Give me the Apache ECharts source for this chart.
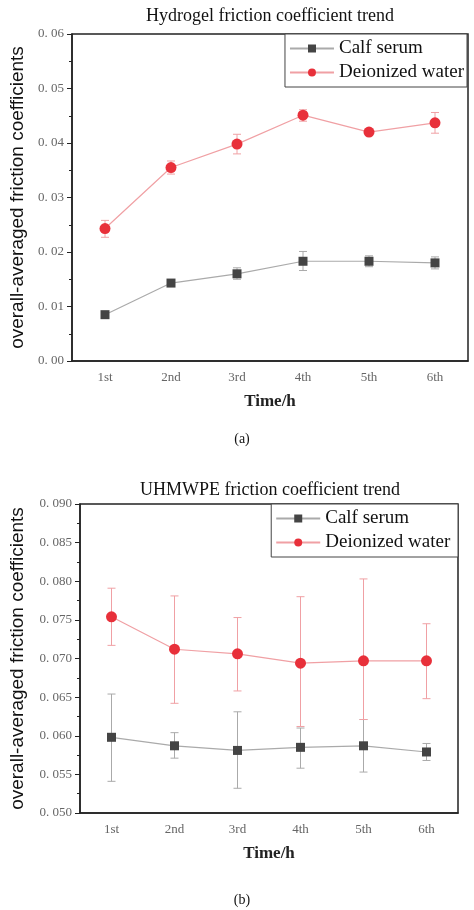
<!DOCTYPE html>
<html><head><meta charset="utf-8">
<script src="https://cdn.jsdelivr.net/npm/echarts@6/dist/echarts.min.js"></script>
<style>body{margin:0;background:#fff}#c{width:474px;height:910px}</style>
</head><body><div id="c"></div>
<script>
const times = ['1st', '2nd', '3rd', '4th', '5th', '6th'];
// Hydrogel
const hCalf = [0.0085, 0.0143, 0.0160, 0.0183, 0.0183, 0.0180];
const hCalfHi = [0.0088, 0.0147, 0.0171, 0.0201, 0.0193, 0.0191];
const hCalfLo = [0.0082, 0.0139, 0.0150, 0.0166, 0.0173, 0.0169];
const hWater = [0.0243, 0.0355, 0.0398, 0.0451, 0.0420, 0.0437];
const hWaterHi = [0.0258, 0.0367, 0.0416, 0.0461, 0.0422, 0.0456];
const hWaterLo = [0.0227, 0.0343, 0.0380, 0.0440, 0.0418, 0.0418];
// UHMWPE
const uCalf = [0.0598, 0.0587, 0.0581, 0.0585, 0.0587, 0.0579];
const uCalfHi = [0.0654, 0.0604, 0.0631, 0.0610, 0.0621, 0.0590];
const uCalfLo = [0.0541, 0.0571, 0.0532, 0.0558, 0.0553, 0.0568];
const uWater = [0.0754, 0.0712, 0.0706, 0.0694, 0.0697, 0.0697];
const uWaterHi = [0.0791, 0.0781, 0.0753, 0.0780, 0.0803, 0.0745];
const uWaterLo = [0.0717, 0.0642, 0.0658, 0.0612, 0.0621, 0.0648];

const serif = 'Liberation Serif';
const calfColor = '#444', calfLine = '#aaa';
const waterColor = '#e8303a', waterLine = '#f0a0a4';

function errBars(idx, hi, lo, color) {
  return {
    type: 'custom', xAxisIndex: idx, yAxisIndex: idx, z: 1, silent: true,
    data: times.map((t, i) => [i, lo[i], hi[i]]),
    renderItem: function (params, api) {
      const a = api.coord([api.value(0), api.value(1)]);
      const b = api.coord([api.value(0), api.value(2)]);
      const w = 4;
      const st = { stroke: color, lineWidth: 1 };
      return { type: 'group', children: [
        { type: 'line', shape: { x1: a[0], y1: a[1], x2: b[0], y2: b[1] }, style: st },
        { type: 'line', shape: { x1: a[0] - w, y1: a[1], x2: a[0] + w, y2: a[1] }, style: st },
        { type: 'line', shape: { x1: b[0] - w, y1: b[1], x2: b[0] + w, y2: b[1] }, style: st }
      ] };
    }
  };
}
function line(idx, name, data, sym, color, lc) {
  return {
    type: 'line', name: name, xAxisIndex: idx, yAxisIndex: idx, data: data, z: 3,
    symbol: sym, symbolSize: sym === 'rect' ? 9 : 11,
    itemStyle: { color: color }, lineStyle: { color: lc, width: 1.2 }
  };
}
function xAx(idx) {
  return {
    type: 'category', gridIndex: idx, data: times,
    name: 'Time/h', nameLocation: 'middle', nameGap: 32,
    nameTextStyle: { fontFamily: serif, fontWeight: 'bold', fontSize: 17, color: '#222' },
    axisLine: { lineStyle: { color: '#222', width: 1.5 } },
    axisTick: { alignWithLabel: true, length: 4, lineStyle: { color: '#222' } },
    axisLabel: { fontFamily: serif, fontSize: 13, color: '#666', margin: 10 }
  };
}
function yAx(idx, min, max, interval, dec) {
  return {
    type: 'value', gridIndex: idx, min: min, max: max, interval: interval,
    name: 'overall-averaged friction coefficients', nameLocation: 'middle', nameGap: dec === 2 ? 45 : 53,
    nameTextStyle: { fontFamily: 'Liberation Sans', fontSize: 19, color: '#111' },
    axisLine: { show: true, lineStyle: { color: '#222', width: 1.5 } },
    axisTick: { show: true, length: 5, lineStyle: { color: '#222' } },
    minorTick: { show: true, splitNumber: 2, length: 3, lineStyle: { color: '#222' } },
    splitLine: { show: false },
    axisLabel: { fontFamily: serif, fontSize: 13, color: '#666',
      formatter: v => v.toFixed(dec).replace('.', '. ') }
  };
}
function legend(idx, top) {
  return {
    left: 'auto', right: idx === 0 ? 7 : 16, top: top, orient: 'vertical',
    data: idx === 0 ? ['Calf serum', 'Deionized water'] : ['Calf serum ', 'Deionized water '],
    borderColor: '#444', borderWidth: 1, padding: [5, 3, 5, 4], itemGap: 5,
    itemWidth: 44, itemHeight: 10, backgroundColor: '#fff',
    textStyle: { fontFamily: serif, fontSize: 19, color: '#111' }
  };
}
const chart = echarts.init(document.getElementById('c'));
chart.setOption({
  animation: false,
  title: [
    { text: 'Hydrogel friction coefficient trend', left: 265, textAlign: 'center', top: 2,
      textStyle: { fontFamily: serif, fontSize: 18, fontWeight: 'normal', color: '#111' } },
    { text: '(a)', left: 237, textAlign: 'center', top: 427,
      textStyle: { fontFamily: serif, fontSize: 14, fontWeight: 'normal', color: '#111' } },
    { text: 'UHMWPE friction coefficient trend', left: 265, textAlign: 'center', top: 476,
      textStyle: { fontFamily: serif, fontSize: 18, fontWeight: 'normal', color: '#111' } },
    { text: '(b)', left: 237, textAlign: 'center', top: 888,
      textStyle: { fontFamily: serif, fontSize: 14, fontWeight: 'normal', color: '#111' } }
  ],
  legend: [legend(0, 34), legend(1, 504)],
  grid: [
    { left: 63, width: 405, top: 34, height: 327, show: true, borderColor: '#222', borderWidth: 1.5 },
    { left: 73, width: 385, top: 504, height: 309, show: true, borderColor: '#222', borderWidth: 1.5 }
  ],
  xAxis: [xAx(0), xAx(1)],
  yAxis: [yAx(0, 0, 0.06, 0.01, 2), yAx(1, 0.05, 0.09, 0.005, 3)],
  series: [
    errBars(0, hCalfHi, hCalfLo, calfLine),
    errBars(0, hWaterHi, hWaterLo, waterLine),
    line(0, 'Calf serum', hCalf, 'rect', calfColor, calfLine),
    line(0, 'Deionized water', hWater, 'circle', waterColor, waterLine),
    errBars(1, uCalfHi, uCalfLo, calfLine),
    errBars(1, uWaterHi, uWaterLo, waterLine),
    line(1, 'Calf serum ', uCalf, 'rect', calfColor, calfLine),
    line(1, 'Deionized water ', uWater, 'circle', waterColor, waterLine)
  ]
});
</script></body></html>
